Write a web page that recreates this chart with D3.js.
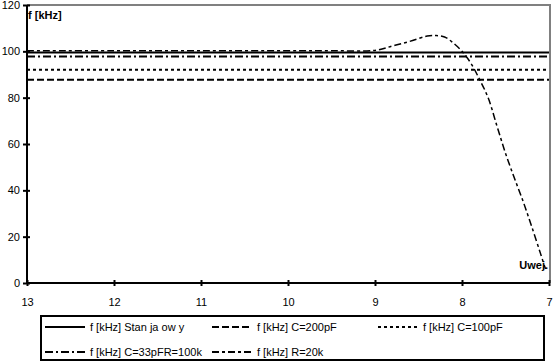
<!DOCTYPE html>
<html>
<head>
<meta charset="utf-8">
<script src="https://cdn.jsdelivr.net/npm/d3@7"></script>
<style>
  body { margin: 0; background: #fff; }
  text { font-family: "Liberation Sans", Arial, sans-serif; }
</style>
</head>
<body>
<div id="chart"></div>
<script>
// data
var xTicks = [13, 12, 11, 10, 9, 8, 7];
var yTicks = [0, 20, 40, 60, 80, 100, 120];

var seriesNames = ["f [kHz] Stan ja ow y", "f [kHz] C=200pF", "f [kHz] C=100pF",
                   "f [kHz] C=33pFR=100k", "f [kHz] R=20k"];
var seriesDash = ["none", "7,3", "3,3", "8,3,2,3", "7,3,3,3"];

// flat series, measured over the whole range
var flatX = [13, 7];
var stanJalowy = [99.5, 99.5];
var c200 = [87.7, 87.7];
var c100 = [92, 92];
var c33 = [97.8, 97.8];

// R=20k curve
var r20X = [13, 12, 11, 10, 9.5, 9, 8.8, 8.6, 8.4, 8.3, 8.2, 8.1, 8.0, 7.9, 7.8, 7.7, 7.6, 7.5, 7.4, 7.3, 7.2, 7.1, 7.04];
var r20Y = [100.3, 100.3, 100.3, 100.3, 100.3, 100.4, 102.3, 104.3, 106.6, 106.8, 106.2, 103.6, 100, 95, 88, 80, 68, 56, 45.5, 35.5, 24.5, 13, 6];

var W = 553, H = 363;
var svg = d3.select("#chart").append("svg")
    .attr("width", W)
    .attr("height", H);

var x = d3.scaleLinear().domain([13, 7]).range([27, 549]);
var y = d3.scaleLinear().domain([0, 120]).range([283, 5]);

// plot border (gray top/right)
svg.append("path")
    .attr("d", "M" + x(13) + "," + y(120) + "H" + (x(7) + 1) + "V" + y(0))
    .attr("fill", "none")
    .attr("stroke", "#808080")
    .attr("stroke-width", 2);

var line = d3.line()
    .curve(d3.curveCatmullRom)
    .x(function(d) { return x(d[0]); })
    .y(function(d) { return y(d[1]); });

var seriesData = [
  d3.zip(flatX, stanJalowy),
  d3.zip(flatX, c200),
  d3.zip(flatX, c100),
  d3.zip(flatX, c33),
  d3.zip(r20X, r20Y)
];

svg.selectAll(".series")
  .data(seriesData)
  .enter()
  .append("path")
    .attr("class", "series")
    .attr("d", line)
    .attr("fill", "none")
    .attr("stroke", "#000")
    .attr("stroke-width", function(d, i) { return i == 4 ? 1.5 : 2; })
    .attr("stroke-dasharray", function(d, i) { return seriesDash[i]; });

// axes
var yAxis = svg.append("g")
  .attr("transform", "translate(" + x(13) + ",0)")
  .call(d3.axisLeft(y).tickValues(yTicks).tickSize(4).tickPadding(3));
yAxis.select(".domain").attr("stroke-width", 2).attr("d", "M0," + y(120) + "V" + y(0));
yAxis.selectAll(".tick line").attr("x1", 3).attr("x2", -4).attr("stroke-width", 2);

var xAxis = svg.append("g")
  .attr("transform", "translate(0," + y(0) + ")")
  .call(d3.axisBottom(x).tickValues(xTicks).tickFormat(d3.format("d")).tickSize(4).tickPadding(11));
xAxis.select(".domain").attr("stroke-width", 2).attr("d", "M" + x(13) + ",0H" + (x(7) + 1));
xAxis.selectAll(".tick line").attr("y1", -3).attr("y2", 3).attr("stroke-width", 2);
// last label sits on the right edge
xAxis.selectAll(".tick text").filter(function(d) { return d == 7; })
  .attr("text-anchor", "end").attr("x", 3);

svg.selectAll(".tick text")
  .style("font-family", "'Liberation Sans', Arial, sans-serif")
  .style("font-size", "11px")
  .attr("fill", "#000");

// axis titles
svg.append("text")
  .attr("x", 28).attr("y", 19)
  .style("font-size", "11px").style("font-weight", "bold")
  .text("f [kHz]");

svg.append("text")
  .attr("x", 548).attr("y", 269)
  .attr("text-anchor", "end")
  .style("font-size", "11px").style("font-weight", "bold")
  .text("Uwej.");

// legend
svg.append("rect")
  .attr("x", 41).attr("y", 316)
  .attr("width", 503).attr("height", 44)
  .attr("fill", "#fff")
  .attr("stroke", "#000")
  .attr("stroke-width", 2);

var legPos = [[45, 327], [212, 327], [378, 327], [45, 352], [212, 352]];

var leg = svg.selectAll(".leg")
  .data(seriesNames)
  .enter()
  .append("g")
    .attr("class", "leg")
    .attr("transform", function(d, i) { return "translate(" + legPos[i][0] + "," + legPos[i][1] + ")"; });

leg.append("line")
  .attr("x1", 0).attr("x2", 40)
  .attr("stroke", "#000")
  .attr("stroke-width", 2)
  .attr("stroke-dasharray", function(d, i) { return seriesDash[i]; });

leg.append("text")
  .attr("x", 45).attr("y", 4)
  .style("font-size", "11px")
  .text(function(d) { return d; });
</script>
</body>
</html>
